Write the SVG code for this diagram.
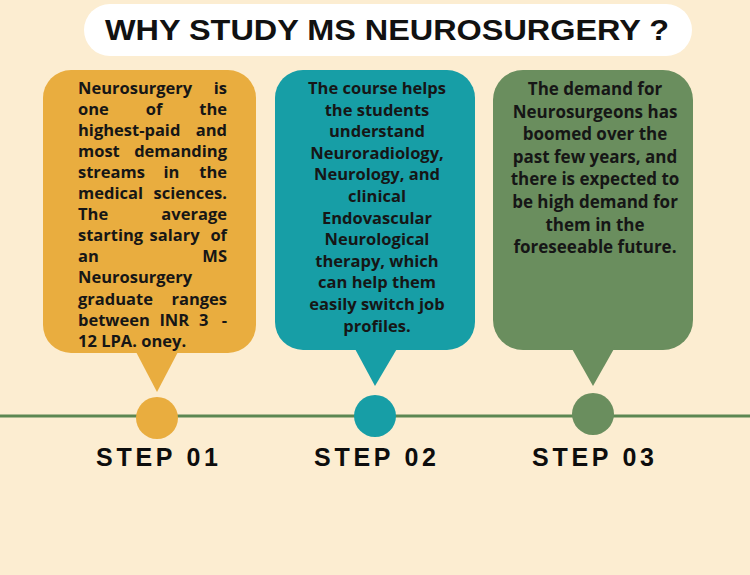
<svg xmlns="http://www.w3.org/2000/svg" width="750" height="575" viewBox="0 0 750 575">
<style>
.t{font-family:"Open Sans","Liberation Sans",sans-serif;font-weight:700;font-size:16.5px;fill:#161616}
.c{text-anchor:middle}
.e{text-anchor:end}
.step{font-family:"Liberation Sans",Arial,sans-serif;font-weight:700;font-size:25px;fill:#0d0d0d;text-anchor:middle}
.title{font-family:"Liberation Sans",Arial,sans-serif;font-weight:700;font-size:29px;fill:#111;text-anchor:middle}
</style>
<rect width="750" height="575" fill="#FCEDD1"/>
<g id="title">
<rect x="84" y="4" width="608" height="52" rx="26" fill="#FFFFFF"/>
<text class="title" x="387" y="40" textLength="564" lengthAdjust="spacingAndGlyphs">WHY STUDY MS NEUROSURGERY ?</text>
</g>
<g id="connectors">
<line x1="0" y1="416" x2="750" y2="416" stroke="#5C8752" stroke-width="3"/>
</g>
<g id="step1">
<rect x="43" y="70" width="213" height="283" rx="28" fill="#E9AD3F"/>
<polygon points="135,350 179,350 157,392" fill="#E9AD3F"/>
<circle cx="157" cy="418" r="21" fill="#E9AD3F"/>
<g class="t">
<text x="78" y="93.5">Neurosurgery</text><text class="e" x="227" y="93.5">is</text>
<text x="78" y="114.6">one</text><text class="c" x="154" y="114.6">of</text><text class="e" x="227" y="114.6">the</text>
<text x="78" y="135.7">highest-paid</text><text class="e" x="227" y="135.7">and</text>
<text x="78" y="156.8">most</text><text class="e" x="227" y="156.8">demanding</text>
<text x="78" y="177.9">streams</text><text class="c" x="171.5" y="177.9">in</text><text class="e" x="227" y="177.9">the</text>
<text x="78" y="199">medical</text><text class="e" x="227" y="199">sciences.</text>
<text x="78" y="220.1">The</text><text class="e" x="227" y="220.1">average</text>
<text x="78" y="241.2">starting</text><text class="c" x="174.5" y="241.2">salary</text><text class="e" x="227" y="241.2">of</text>
<text x="78" y="262.3">an</text><text class="e" x="227" y="262.3">MS</text>
<text x="78" y="283.4">Neurosurgery</text>
<text x="78" y="304.5">graduate</text><text class="e" x="227" y="304.5">ranges</text>
<text x="78" y="325.6">between</text><text class="c" x="174.3" y="325.6">INR</text><text class="c" x="203.7" y="325.6">3</text><text class="e" x="227" y="325.6">-</text>
<text x="78" y="346.7">12 LPA. oney.</text>
</g>
<text class="step" x="157" y="466" textLength="122" lengthAdjust="spacing">STEP 01</text>
</g>
<g id="step2">
<rect x="275" y="70" width="200" height="280" rx="28" fill="#179EA6"/>
<polygon points="354,347 398,347 375,386" fill="#179EA6"/>
<circle cx="375" cy="416" r="21" fill="#179EA6"/>
<g class="t c">
<text x="377" y="94">The course helps</text>
<text x="377" y="115.6">the students</text>
<text x="377" y="137.2">understand</text>
<text x="377" y="158.8">Neuroradiology,</text>
<text x="377" y="180.4">Neurology, and</text>
<text x="377" y="202">clinical</text>
<text x="377" y="223.6">Endovascular</text>
<text x="377" y="245.2">Neurological</text>
<text x="377" y="266.8">therapy, which</text>
<text x="377" y="288.4">can help them</text>
<text x="377" y="310">easily switch job</text>
<text x="377" y="331.6">profiles.</text>
</g>
<text class="step" x="375" y="466" textLength="122" lengthAdjust="spacing">STEP 02</text>
</g>
<g id="step3">
<rect x="493" y="70" width="200" height="280" rx="30" fill="#6A8E5E"/>
<polygon points="571,347 615,347 593,386" fill="#6A8E5E"/>
<circle cx="593" cy="414" r="21" fill="#6A8E5E"/>
<g class="t c" style="font-size:17px">
<text x="595" y="95">The demand for</text>
<text x="595" y="117.6">Neurosurgeons has</text>
<text x="595" y="140.2">boomed over the</text>
<text x="595" y="162.8">past few years, and</text>
<text x="595" y="185.4">there is expected to</text>
<text x="595" y="208">be high demand for</text>
<text x="595" y="230.6">them in the</text>
<text x="595" y="253.2">foreseeable future.</text>
</g>
<text class="step" x="593" y="466" textLength="122" lengthAdjust="spacing">STEP 03</text>
</g>
</svg>
